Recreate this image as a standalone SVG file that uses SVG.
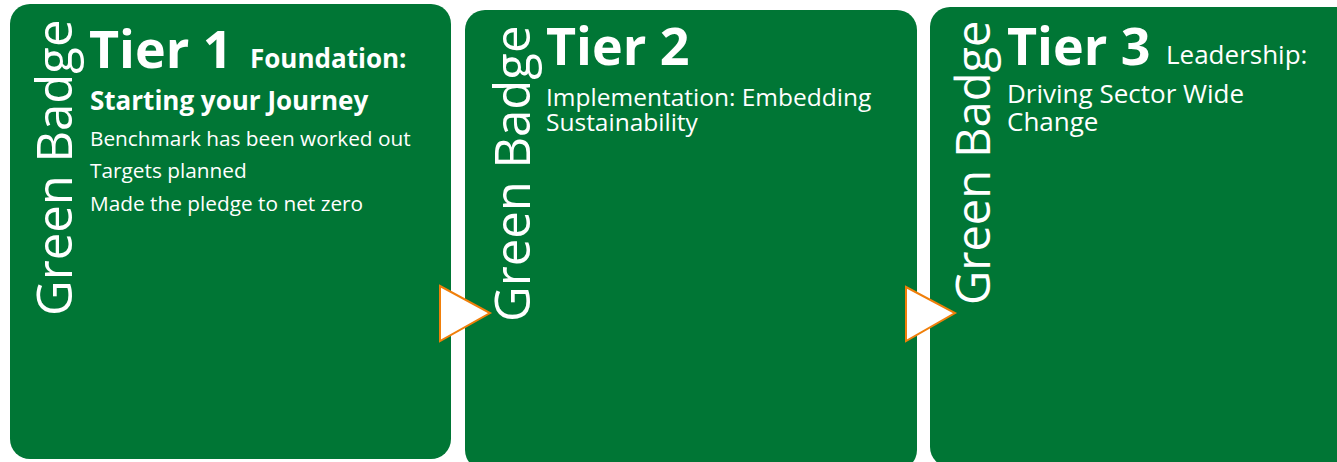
<svg xmlns="http://www.w3.org/2000/svg" width="1337" height="462" viewBox="0 0 1337 462">
<style>
.box{fill:#007635}
.side{font-family:"Open Sans","Noto Sans",sans-serif;font-size:49px;fill:#fff}
.tier{font-family:"Open Sans","Noto Sans",sans-serif;font-size:52px;font-weight:700;fill:#fff}
.sub{font-family:"Open Sans","Noto Sans",sans-serif;font-size:24.5px;fill:#fff}
.sub3{font-family:"Open Sans","Noto Sans",sans-serif;font-size:26px;fill:#fff}
.subb{font-family:"Open Sans","Noto Sans",sans-serif;font-size:26px;font-weight:700;fill:#fff}
.item{font-family:"Open Sans","Noto Sans",sans-serif;font-size:20.8px;fill:#fff}
.arrow{fill:#fff;stroke:#F07F0A;stroke-width:2;stroke-linejoin:miter}
</style>
<rect width="1337" height="462" fill="#fff"/>
<g id="tier1">
<rect class="box" x="10" y="4" width="441" height="455" rx="20" ry="20"/>
<text class="side" transform="translate(72,316) rotate(-90)">Green Badge</text>
<text class="tier" x="89" y="68">Tier 1</text>
<text class="subb" x="250" y="68">Foundation:</text>
<text class="subb" x="90" y="110">Starting your Journey</text>
<text class="item" x="90" y="146">Benchmark has been worked out</text>
<text class="item" x="90" y="178">Targets planned</text>
<text class="item" x="90" y="211">Made the pledge to net zero</text>
</g>
<g id="tier2">
<rect class="box" x="465" y="10" width="452" height="460" rx="20" ry="20"/>
<text class="side" transform="translate(530,322) rotate(-90)">Green Badge</text>
<text class="tier" x="546" y="65">Tier 2</text>
<text class="sub" x="546" y="106">Implementation: Embedding</text>
<text class="sub" x="546" y="131">Sustainability</text>
</g>
<g id="tier3">
<rect class="box" x="930" y="7" width="440" height="460" rx="20" ry="20"/>
<text class="side" style="font-size:47px" transform="translate(990,305) rotate(-90)">Green Badge</text>
<text class="tier" x="1007" y="65">Tier 3</text>
<text class="sub3" x="1166" y="64">Leadership:</text>
<text class="sub3" x="1007" y="103">Driving Sector Wide</text>
<text class="sub3" x="1007" y="131">Change</text>
</g>
<g id="connectors">
<polygon class="arrow" points="440,286 490,313 440,341"/>
<polygon class="arrow" points="906,287 955,313 906,341"/>
</g>
</svg>
